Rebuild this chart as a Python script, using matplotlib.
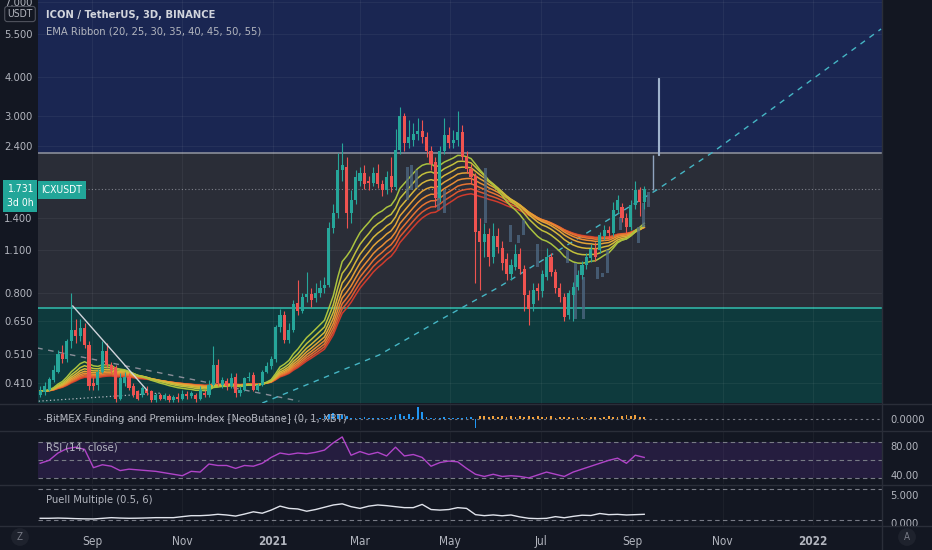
import numpy as np
import pandas as pd
import matplotlib
matplotlib.use('Agg')
import matplotlib.pyplot as plt
import matplotlib.dates as mdates
from matplotlib import font_manager as fm
from matplotlib.lines import Line2D
from matplotlib.patches import Rectangle
from matplotlib.ticker import NullLocator


def pick_font():
    # narrow face if there is one, else Roboto
    tries = [('Liberation Sans Narrow', 'normal', 'Narrow'),
             ('DejaVu Sans', 'condensed', 'Condensed'),
             ('Roboto', 'normal', 'Roboto')]
    for fam, stretch, key in tries:
        try:
            path = fm.findfont(fm.FontProperties(family=fam, stretch=stretch), fallback_to_default=False)
        except ValueError:
            continue
        if key.lower() in path.lower():
            return fam, stretch
    return 'DejaVu Sans', 'normal'


FONT, STRETCH = pick_font()
plt.rcParams['font.family'] = [FONT, 'DejaVu Sans']
plt.rcParams['font.stretch'] = STRETCH

# ---- candles (3D, ICXUSDT) ----
start_date = '2020-07-28'
opens = [0.375, 0.383, 0.389, 0.420, 0.445, 0.510, 0.490, 0.560, 0.610, 0.580,
         0.615, 0.545, 0.410, 0.405, 0.445, 0.520, 0.470, 0.460, 0.365, 0.410,
         0.430, 0.400, 0.385, 0.375, 0.390, 0.385, 0.360, 0.375, 0.365, 0.372,
         0.362, 0.370, 0.365, 0.378, 0.372, 0.375, 0.365, 0.380, 0.376, 0.405,
         0.468, 0.404, 0.415, 0.400, 0.430, 0.380, 0.390, 0.425, 0.435, 0.390,
         0.405, 0.445, 0.465, 0.490, 0.620, 0.680, 0.565, 0.610, 0.745, 0.700,
         0.775, 0.795, 0.770, 0.800, 0.830, 0.850, 1.300, 1.450, 2.000, 2.050,
         1.450, 1.600, 1.850, 1.960, 1.850, 1.820, 1.960, 1.800, 1.720, 1.920,
         1.760, 2.320, 3.000, 2.450, 2.500, 2.620, 2.680, 2.550, 2.300, 2.120,
         1.620, 2.300, 2.600, 2.450, 2.500, 2.650, 2.200, 2.020, 1.920, 1.270,
         1.170, 1.240, 1.050, 1.220, 1.120, 1.030, 0.920, 0.970, 1.070, 0.960,
         0.790, 0.740, 0.830, 0.810, 0.905, 1.050, 0.940, 0.830, 0.780, 0.680,
         0.790, 0.840, 0.915, 0.990, 1.040, 1.110, 1.100, 1.220, 1.280, 1.250,
         1.490, 1.520, 1.400, 1.310, 1.540, 1.730, 1.580]
closes = [0.385, 0.400, 0.422, 0.450, 0.510, 0.490, 0.560, 0.610, 0.580, 0.615,
          0.545, 0.400, 0.400, 0.445, 0.520, 0.470, 0.450, 0.365, 0.425, 0.430,
          0.395, 0.375, 0.365, 0.395, 0.380, 0.360, 0.375, 0.365, 0.375, 0.362,
          0.370, 0.365, 0.378, 0.372, 0.380, 0.363, 0.389, 0.376, 0.405, 0.468,
          0.410, 0.419, 0.400, 0.425, 0.380, 0.390, 0.425, 0.430, 0.390, 0.405,
          0.445, 0.465, 0.490, 0.620, 0.680, 0.565, 0.610, 0.740, 0.700, 0.780,
          0.795, 0.760, 0.800, 0.830, 0.850, 1.300, 1.450, 2.000, 2.070, 1.450,
          1.600, 1.900, 1.950, 1.800, 1.820, 1.960, 1.800, 1.720, 1.900, 1.760,
          2.320, 3.000, 2.450, 2.550, 2.620, 2.680, 2.550, 2.300, 2.100, 1.620,
          2.300, 2.600, 2.450, 2.500, 2.650, 2.200, 2.020, 1.900, 1.260, 1.170,
          1.240, 1.050, 1.220, 1.130, 1.000, 0.920, 0.990, 1.070, 0.960, 0.790,
          0.710, 0.820, 0.810, 0.920, 1.050, 0.940, 0.830, 0.780, 0.670, 0.800,
          0.840, 0.915, 0.990, 1.050, 1.110, 1.050, 1.230, 1.280, 1.250, 1.490,
          1.600, 1.400, 1.310, 1.540, 1.720, 1.580, 1.731]
highs = [0.400, 0.412, 0.430, 0.468, 0.524, 0.545, 0.570, 0.800, 0.660, 0.660,
         0.640, 0.560, 0.430, 0.455, 0.560, 0.550, 0.480, 0.470, 0.440, 0.445,
         0.440, 0.410, 0.390, 0.400, 0.400, 0.390, 0.380, 0.380, 0.380, 0.378,
         0.376, 0.380, 0.390, 0.385, 0.385, 0.380, 0.400, 0.390, 0.420, 0.540,
         0.490, 0.430, 0.425, 0.440, 0.440, 0.400, 0.430, 0.445, 0.445, 0.410,
         0.450, 0.480, 0.500, 0.630, 0.710, 0.700, 0.640, 0.760, 0.880, 0.800,
         0.940, 0.830, 0.860, 0.880, 0.900, 1.360, 1.550, 2.270, 2.450, 2.200,
         1.720, 2.000, 2.050, 2.080, 1.920, 2.050, 2.100, 1.860, 1.980, 2.200,
         2.720, 3.200, 3.050, 2.900, 2.850, 2.950, 2.900, 2.650, 2.400, 2.200,
         2.400, 2.950, 2.750, 2.700, 3.100, 2.800, 2.300, 2.100, 1.950, 1.400,
         1.350, 1.300, 1.350, 1.300, 1.180, 1.080, 1.030, 1.150, 1.120, 0.990,
         0.820, 0.860, 0.860, 0.950, 1.120, 1.080, 0.960, 0.860, 0.800, 0.820,
         0.870, 0.950, 1.020, 1.080, 1.150, 1.170, 1.260, 1.330, 1.320, 1.580,
         1.660, 1.560, 1.450, 1.600, 1.840, 1.760, 1.780]
lows = [0.368, 0.375, 0.385, 0.412, 0.440, 0.475, 0.480, 0.530, 0.550, 0.560,
        0.530, 0.390, 0.390, 0.390, 0.440, 0.460, 0.440, 0.355, 0.360, 0.400,
        0.390, 0.370, 0.360, 0.370, 0.375, 0.355, 0.355, 0.360, 0.360, 0.356,
        0.355, 0.355, 0.360, 0.365, 0.366, 0.355, 0.360, 0.370, 0.370, 0.400,
        0.400, 0.395, 0.390, 0.395, 0.370, 0.372, 0.385, 0.415, 0.385, 0.385,
        0.400, 0.440, 0.455, 0.480, 0.600, 0.550, 0.550, 0.600, 0.680, 0.690,
        0.750, 0.720, 0.750, 0.780, 0.800, 0.840, 1.250, 1.400, 1.850, 1.300,
        1.350, 1.550, 1.780, 1.740, 1.720, 1.780, 1.750, 1.650, 1.680, 1.700,
        1.720, 2.250, 2.300, 2.350, 2.400, 2.500, 2.450, 2.200, 2.000, 1.520,
        1.580, 2.250, 2.350, 2.350, 2.400, 2.150, 1.950, 1.800, 0.860, 0.820,
        1.050, 0.980, 1.000, 1.080, 0.950, 0.880, 0.880, 0.950, 0.920, 0.700,
        0.630, 0.700, 0.760, 0.780, 0.880, 0.910, 0.800, 0.750, 0.650, 0.660,
        0.650, 0.820, 0.890, 0.960, 1.010, 1.020, 1.080, 1.190, 1.200, 1.220,
        1.450, 1.360, 1.250, 1.280, 1.500, 1.420, 1.500]

# greyed bars (candle index, low, high)
ghost_idx = [82.6, 83.7, 84.8, 89.7, 91.0, 100.2, 105.8, 107.7, 108.8, 112.0,
             118.7, 120.5, 122.3, 125.5, 126.6, 127.7, 130.6, 134.7, 135.8, 136.9, 137.9]
ghost_lo = [1.60, 1.72, 1.75, 1.49, 1.45, 1.35, 1.17, 1.16, 1.23, 0.97,
            1.00, 0.66, 0.66, 0.89, 0.90, 0.93, 1.28, 1.16, 1.31, 1.52, 1.73]
ghost_hi = [2.05, 2.08, 2.00, 1.76, 1.72, 2.03, 1.33, 1.23, 1.38, 1.15,
            1.10, 1.00, 0.90, 0.97, 0.93, 1.10, 1.41, 1.31, 1.56, 1.70, 2.24]
spike_idx = 139.2
spike_lo, spike_hi = 2.24, 3.97

last_price = 1.731
zone_top = 2.276
zone_bottom = 0.716
ema_lengths = [20, 25, 30, 35, 40, 45, 50, 55]

# drawings (date, price)
white_line = (['2020-08-19', '2020-10-08'], [0.727, 0.389])
grey_dash = (['2020-07-26', '2021-01-19'], [0.532, 0.358])
grey_dot = (['2020-07-27', '2020-10-17'], [0.358, 0.380])
cyan_dash = (['2020-12-25', '2021-03-14', '2021-04-24', '2021-06-03',
              '2021-09-17', '2021-10-25', '2022-02-16'],
             [0.353, 0.505, 0.655, 0.838, 1.72, 2.28, 5.72])

# ---- indicators ----
rsi_vals = [56, 60, 70, 76, 78, 75, 50, 54, 52, 46, 48, 47, 46, 45, 43, 41, 39, 45, 44, 55,
            53, 53, 49, 53, 52, 56, 64, 70, 68, 70, 69, 71, 74, 84, 92, 67, 72, 68, 71, 66,
            78, 66, 68, 64, 52, 57, 59, 58, 49, 41, 38, 41, 38, 39, 38, 36, 40, 44, 41, 38,
            44, 48, 52, 56, 60, 63, 56, 67, 64]
puell_vals = [0.86, 0.86, 0.90, 0.86, 0.80, 0.76, 0.74, 0.85, 0.97, 0.90,
              0.86, 0.88, 0.92, 0.97, 0.97, 0.97, 1.15, 1.32, 1.32, 1.40,
              1.56, 1.44, 1.25, 1.60, 2.00, 1.75, 2.30, 3.00, 2.60, 2.50,
              2.10, 2.40, 2.80, 3.20, 3.40, 2.90, 2.60, 3.00, 3.20, 3.08,
              2.90, 2.73, 2.73, 3.30, 2.40, 2.30, 2.40, 2.73, 2.60, 1.50,
              1.32, 1.45, 1.30, 1.44, 1.10, 0.86, 0.80, 0.85, 1.15, 0.95,
              1.20, 1.40, 1.35, 1.70, 1.50, 1.55, 1.44, 1.50, 1.56]
funding_start = 63
funding_vals = [1, 3, 5, 6, 5, 4, 3, 1, 1, 1, 2, 1, 1, 1, 1, 1, 2, 4, 5, 3,
                5, 2, 12, 7, 2, 1, 1, 1, 2, 1, 1, 1, 1, 2, 2, -9, 3, 3, 2, 3,
                2, 3, 2, 3, 2, 3, 2, 3, 2, 3, 2, 2, 3, 1, 2, 2, 2, 1, 2, 2,
                1, 2, 2, 1, 2, 3, 2, 2, 3, 4, 3, 4, 2, 2]

month_ticks = ['2020-09-01', '2020-11-01', '2021-01-01', '2021-03-01', '2021-05-01',
               '2021-07-01', '2021-09-01', '2021-11-01', '2022-01-01']
month_labels = ['Sep', 'Nov', '2021', 'Mar', 'May', 'Jul', 'Sep', 'Nov', '2022']
price_ticks = [7.0, 5.5, 4.0, 3.0, 2.4, 1.4, 1.1, 0.8, 0.65, 0.51, 0.41]

# ---------------------------------------------------------------
W, H = 932, 550
BG = '#131722'
TXT = '#b2b5be'
UP, DN = '#26a69a', '#ef5350'
FS = 7.5 if FONT != 'Roboto' else 7.5


def fx(x):
    return x / W


def fy(y):
    return 1 - y / H


def dnum(s):
    return mdates.date2num(pd.Timestamp(s).to_pydatetime())


fig = plt.figure(figsize=(W / 100, H / 100), dpi=100, facecolor=BG)

ax = fig.add_axes([fx(38), fy(403), fx(882) - fx(38), 403 / H])
axf = fig.add_axes([fx(38), fy(430), fx(882) - fx(38), 27 / H], sharex=ax)
axr = fig.add_axes([fx(38), fy(484), fx(882) - fx(38), 53 / H], sharex=ax)
axp = fig.add_axes([fx(38), fy(525), fx(882) - fx(38), 40 / H], sharex=ax)

n = len(closes)
o = np.array(opens)
c = np.array(closes)
hi = np.array(highs)
lo = np.array(lows)
x0 = dnum(start_date)
xs = x0 + 3.0 * np.arange(n)

# x range of the visible window
sep1 = dnum('2020-09-01')
ppd = 1.4805
xmin, xmax = sep1 + (38 - 92) / ppd, sep1 + (882 - 92) / ppd

# ---- main price panel ----
ax.set_facecolor(BG)
ax.set_yscale('log')
ax.set_ylim(0.3531, 7.097)
ax.axhspan(zone_top, 10, color='#1a2652', zorder=0, lw=0)
ax.axhspan(zone_bottom, zone_top, color='#2a2d37', zorder=0, lw=0)
ax.axhspan(0.2, zone_bottom, color='#0e3a3d', zorder=0, lw=0)
ax.axhline(zone_top, color='#8a8e99', lw=1.2, zorder=1)
ax.axhline(zone_bottom, color='#2fb3a5', lw=1.2, zorder=1)
ax.axhline(last_price, color='#9598a1', lw=0.8, ls=(0, (1, 2)), alpha=0.8, zorder=1)

# EMA ribbon from closes
ema_colors = ['#a9c23f', '#c2c03c', '#d6b63a', '#e3a337', '#e88c34', '#e67332', '#de5830', '#cf3b2d']
for L, col in zip(ema_lengths[::-1], ema_colors[::-1]):
    ema = pd.Series(c).ewm(span=L, adjust=False).mean().values
    ax.plot(xs, ema, color=col, lw=1.1, zorder=3)

# greyed bars
gx = x0 + 3.0 * np.array(ghost_idx)
glo = np.array(ghost_lo)
ghi = np.array(ghost_hi)
ax.bar(gx[:-1], ghi[:-1] - glo[:-1], bottom=glo[:-1], width=2.0, color='#4f6a85', alpha=0.75, lw=0, zorder=3.5)
ax.vlines(gx[-1], glo[-1], ghi[-1], color='#8fa3bf', lw=1.0, zorder=4)
sx = x0 + 3.0 * spike_idx
ax.add_patch(Rectangle((sx - 0.6, spike_lo), 1.2, spike_hi - spike_lo, fill=False,
                       ec='#9fb2cc', lw=0.8, zorder=4))

# candles
cols = np.where(c >= o, UP, DN)
ax.vlines(xs, lo, hi, colors=cols, lw=0.8, zorder=4)
bot = np.minimum(o, c)
hgt = np.maximum(np.abs(c - o), bot * 0.006)
ax.bar(xs, hgt, bottom=bot, width=2.1, color=cols, lw=0, zorder=5)

# drawings
ax.plot([dnum(d) for d in white_line[0]], white_line[1], color='#d1d4dc', lw=1.0, zorder=6)
ax.plot([dnum(d) for d in grey_dash[0]], grey_dash[1], color='#8a8e99', lw=1.0, ls=(0, (4, 4)), zorder=2)
ax.plot([dnum(d) for d in grey_dot[0]], grey_dot[1], color='#b2b5be', lw=0.9, ls=(0, (1, 2)), zorder=2)
ax.plot([dnum(d) for d in cyan_dash[0]], cyan_dash[1], color='#45b5c4', lw=1.0, ls=(0, (4, 4)), zorder=2.5)

ax.set_xlim(xmin, xmax)
ax.set_yticks(price_ticks)
ax.set_yticklabels([f'{t:.3f}' for t in price_ticks])
ax.yaxis.set_minor_locator(NullLocator())
ax.tick_params(axis='y', which='both', length=0, pad=4, labelsize=FS + 0.5, labelcolor=TXT)
ax.grid(True, color='#ffffff', alpha=0.05, lw=0.8)
ax.set_axisbelow('line')

# ---- funding panel ----
axf.set_facecolor(BG)
fidx = funding_start + np.arange(len(funding_vals))
fv = np.array(funding_vals) * 0.001
fcol = ['#2196f3' if (i <= 97 or v < 0) else '#f0a03c' for i, v in zip(fidx, fv)]
axf.bar(x0 + 3.0 * fidx, fv, width=1.2, color=fcol, lw=0, zorder=3)
axf.axhline(0, color='#787b86', lw=0.8, ls=(0, (2, 3)), zorder=2)
axf.set_ylim(-0.011, 0.016)
axf.yaxis.tick_right()
axf.set_yticks([0])
axf.set_yticklabels(['0.0000'])

# ---- RSI panel ----
axr.set_facecolor(BG)
rx = x0 + 3.0 * 2 * np.arange(len(rsi_vals))
axr.axhspan(35.5, 85.5, color='#783cc8', alpha=0.18, lw=0, zorder=0)
for lvl in (85.5, 60, 35.5):
    axr.axhline(lvl, color='#787b86', lw=0.8, ls=(0, (4, 3)), zorder=1)
axr.plot(rx, rsi_vals, color='#b044c8', lw=1.0, zorder=3)
axr.set_ylim(27.7, 100.1)
axr.yaxis.tick_right()
axr.set_yticks([80, 40])
axr.set_yticklabels(['80.00', '40.00'])

# ---- Puell panel ----
axp.set_facecolor(BG)
px_ = x0 + 3.0 * 2 * np.arange(len(puell_vals))
for lvl in (6, 0.5):
    axp.axhline(lvl, color='#787b86', lw=0.8, ls=(0, (4, 3)), zorder=1)
axp.plot(px_, puell_vals, color='#e0e3eb', lw=1.0, zorder=3)
axp.set_ylim(-0.32, 6.71)
axp.yaxis.tick_right()
axp.set_yticks([5, 0])
axp.set_yticklabels(['5.000', '0.000'])

for a in (ax, axf, axr, axp):
    for s in a.spines.values():
        s.set_visible(False)
    a.set_xticks([dnum(d) for d in month_ticks])
    a.tick_params(axis='x', length=0, labelbottom=False)
    if a is not ax:
        a.tick_params(axis='y', length=0, pad=6, labelsize=FS + 0.5, labelcolor=TXT)
        a.grid(True, axis='x', color='#ffffff', alpha=0.04, lw=0.8)

axp.set_xticks([dnum(d) for d in month_ticks])
axp.set_xticklabels(month_labels)
axp.tick_params(axis='x', labelbottom=True, pad=7, labelsize=FS + 1, labelcolor=TXT)
for lab in axp.get_xticklabels():
    if lab.get_text().isdigit():
        lab.set_fontweight('bold')
axp.set_xlim(xmin, xmax)

# ---- separators ----
for yy in (403.5, 430.5, 484.5, 525.5):
    fig.add_artist(Line2D([0, 1], [fy(yy)] * 2, transform=fig.transFigure, color='#2a2e39', lw=1))
fig.add_artist(Line2D([fx(882)] * 2, [fy(550), 1], transform=fig.transFigure, color='#2a2e39', lw=1))


def ftext(x, y, s, **kw):
    kw.setdefault('va', 'center')
    fig.text(fx(x), fy(y), s, **kw)


ftext(46, 15, 'ICON / TetherUS, 3D, BINANCE', fontsize=FS + 0.5, fontweight='bold', color='#d1d4dc')
ftext(46, 31, 'EMA Ribbon (20, 25, 30, 35, 40, 45, 50, 55)', fontsize=FS + 0.5, color=TXT)
ftext(46, 419, 'BitMEX Funding and Premium Index [NeoButane] (0, 1, XBT)', fontsize=FS + 0.5, color=TXT)
ftext(46, 448, 'RSI (14, close)', fontsize=FS + 0.5, color=TXT)
ftext(46, 500, 'Puell Multiple (0.5, 6)', fontsize=FS + 0.5, color=TXT)

ftext(20, 14, 'USDT', fontsize=FS, color=TXT, ha='center',
      bbox=dict(boxstyle='round,pad=0.25', fc=BG, ec='#50535e', lw=0.8))
ftext(20, 196, f'{last_price:.3f}\n3d 0h', fontsize=FS, color='white', ha='center', linespacing=1.5,
      bbox=dict(boxstyle='square,pad=0.35', fc='#22a699', ec='none'))
ftext(62, 190, 'ICXUSDT', fontsize=FS, color='white', ha='center',
      bbox=dict(boxstyle='square,pad=0.35', fc='#22a699', ec='none'))
ftext(20, 537, 'Z', fontsize=7, color='#787b86', ha='center',
      bbox=dict(boxstyle='circle,pad=0.4', fc='#1e222d', ec='none'))
ftext(907, 537, 'A', fontsize=7, color='#787b86', ha='center',
      bbox=dict(boxstyle='circle,pad=0.4', fc='#1e222d', ec='none'))

fig.savefig('out.png', dpi=100, facecolor=BG)
